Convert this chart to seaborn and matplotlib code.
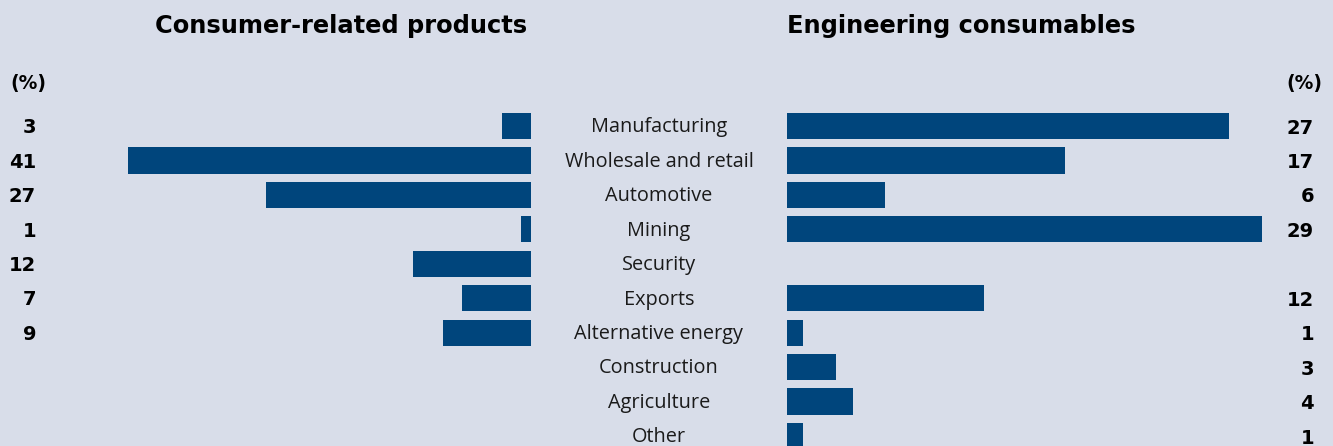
import numpy as np
import pandas as pd
import seaborn as sns
import matplotlib.pyplot as plt
from matplotlib.transforms import blended_transform_factory

# -----------------------------------------------------------------------------
# Data
# -----------------------------------------------------------------------------
categories = ["Manufacturing", "Wholesale and retail", "Automotive", "Mining",
              "Security", "Exports", "Alternative energy", "Construction",
              "Agriculture", "Other"]
consumer = [3, 41, 27, 1, 12, 7, 9, np.nan, np.nan, np.nan]
engineering = [27, 17, 6, 29, np.nan, 12, 1, 3, 4, 1]

left_title = "Consumer-related products"
right_title = "Engineering consumables"

# -----------------------------------------------------------------------------
# Plotting attributes
# -----------------------------------------------------------------------------
sns.set_theme(style="white")
plt.rcParams["text.color"] = "black"
bg = "#d8dde9"
bar_color = "#00457c"
W, H = 1333, 446

df = pd.DataFrame({"category": categories,
                   "consumer": consumer,
                   "engineering": engineering})

fig = plt.figure(figsize=(W / 100, H / 100), dpi=100, facecolor=bg)

row = 34.44
top_px = 126 - row / 2
ax_h = (446.3 - top_px) / H
ax_b = 1 - top_px / H - ax_h

ax1 = fig.add_axes([128 / W, ax_b, 403 / W, ax_h])
ax2 = fig.add_axes([787 / W, ax_b, 475 / W, ax_h])

sns.barplot(data=df, x="consumer", y="category", ax=ax1, color=bar_color,
            width=0.76, saturation=1, orient="h", linewidth=0)
sns.barplot(data=df, x="engineering", y="category", ax=ax2, color=bar_color,
            width=0.76, saturation=1, orient="h", linewidth=0)

ax1.set_xlim(41, 0)
ax2.set_xlim(0, 29)
for ax in (ax1, ax2):
    ax.set_ylim(9.3, -0.5)
    ax.set_facecolor("none")
    ax.set(xlabel=None, ylabel=None, xticks=[], yticks=[])
    sns.despine(ax=ax, left=True, bottom=True)

t1 = blended_transform_factory(fig.transFigure, ax1.transData)
t2 = blended_transform_factory(fig.transFigure, ax2.transData)

# Value labels
for i, v in enumerate(consumer):
    if not np.isnan(v):
        ax1.text(36 / W, i + 0.05, "{:d}".format(int(v)), transform=t1,
                 ha="right", va="center", fontsize=14, fontweight="bold",
                 family="DejaVu Sans")
for i, v in enumerate(engineering):
    if not np.isnan(v):
        ax2.text(1314 / W, i + 0.06, "{:d}".format(int(v)), transform=t2,
                 ha="right", va="center", fontsize=14, fontweight="bold",
                 family="DejaVu Sans")

# Category labels
for i, c in enumerate(categories):
    ax1.text(659 / W, i + 0.04, c, transform=t1, ha="center", va="center",
             fontsize=14.3, family="Open Sans", color="#1a1a1a")

# Headers
fig.text(341 / W, 1 - 26 / H, left_title, ha="center", va="center",
         fontsize=17.4, fontweight="bold", family="DejaVu Sans")
fig.text(787 / W, 1 - 26 / H, right_title, ha="left", va="center",
         fontsize=17.4, fontweight="bold", family="DejaVu Sans")
fig.text(10 / W, 1 - 83 / H, "(%)", ha="left", va="center",
         fontsize=13.5, fontweight="bold", family="DejaVu Sans")
fig.text(1322 / W, 1 - 83 / H, "(%)", ha="right", va="center",
         fontsize=13.5, fontweight="bold", family="DejaVu Sans")

plt.savefig("out.png", dpi=100, facecolor=bg)
